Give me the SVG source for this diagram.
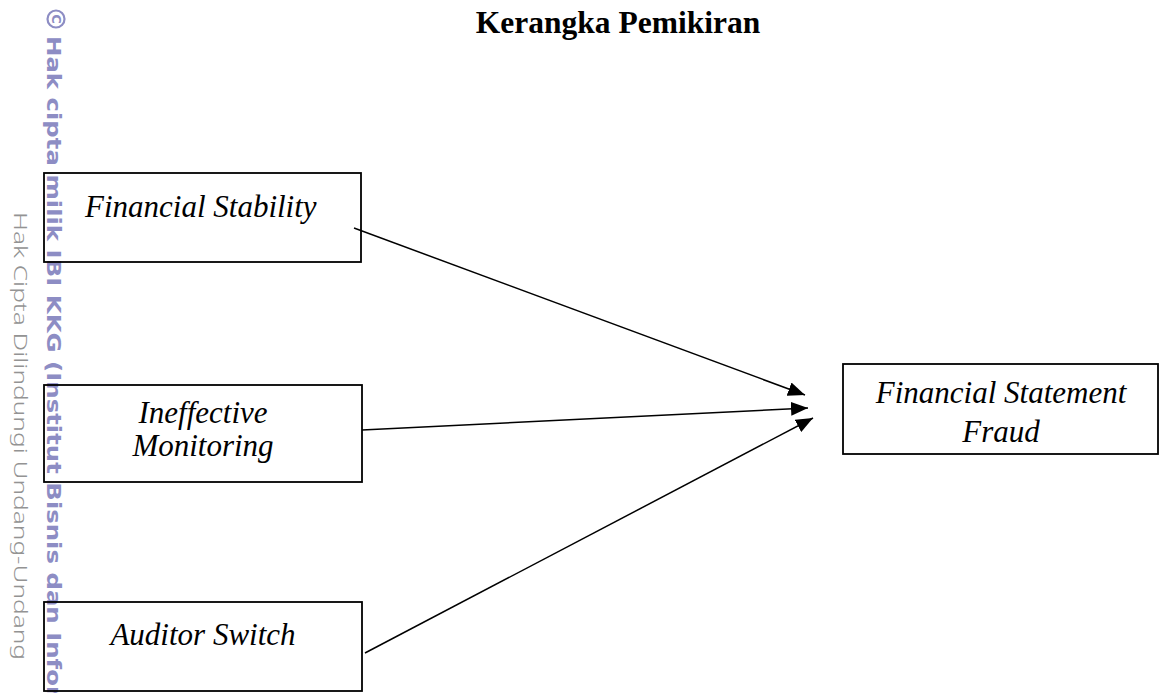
<svg xmlns="http://www.w3.org/2000/svg" width="1160" height="693" viewBox="0 0 1160 693">
<style>
.box{fill:none;stroke:#000;stroke-width:1.8}
.lbl{font-family:"Liberation Serif","Times New Roman",serif;font-style:italic;font-size:31px;fill:#000}
.conn{stroke:#000;stroke-width:1.5;fill:none;marker-end:url(#arr)}
.wm1{font-family:"DejaVu Sans",sans-serif;font-weight:bold;font-size:19.5px;fill:#8d8dc4}
.wm2{font-family:"Noto Sans","DejaVu Sans",sans-serif;font-weight:300;font-size:18px;fill:#939393}
</style>
<defs>
<marker id="arr" markerUnits="userSpaceOnUse" markerWidth="18" markerHeight="14" refX="17" refY="7" orient="auto">
<path d="M0,0 L17,7 L0,14 z" fill="#000"/>
</marker>
</defs>
<rect width="1160" height="693" fill="#fff"/>
<g id="watermark">
<text class="wm2" transform="translate(14,212) rotate(90)" textLength="448" lengthAdjust="spacingAndGlyphs">Hak Cipta Dilindungi Undang-Undang</text>
<circle cx="56" cy="19" r="8.5" fill="none" stroke="#8d8dc4" stroke-width="2.2"/>
<text transform="translate(51.5,19) rotate(90)" text-anchor="middle" style="font-family:'DejaVu Sans',sans-serif;font-weight:bold;font-size:13px;fill:#8d8dc4">C</text>
<text class="wm1" transform="translate(47,36) rotate(90)" textLength="662" lengthAdjust="spacingAndGlyphs">Hak cipta milik IBI KKG (Institut Bisnis dan Infor</text>
</g>
<text x="618" y="33" text-anchor="middle" style="font-family:'Liberation Serif','Times New Roman',serif;font-weight:bold;font-size:31.5px;fill:#000">Kerangka Pemikiran</text>
<g id="node-financial-stability">
<rect class="box" x="44" y="173" width="317" height="89"/>
<text class="lbl" x="85" y="217">Financial Stability</text>
</g>
<g id="node-ineffective-monitoring">
<rect class="box" x="44" y="385" width="318" height="97"/>
<text class="lbl" x="203" y="423" text-anchor="middle">Ineffective</text>
<text class="lbl" x="203" y="456" text-anchor="middle">Monitoring</text>
</g>
<g id="node-auditor-switch">
<rect class="box" x="44" y="602" width="318" height="89"/>
<text class="lbl" x="203" y="645" text-anchor="middle">Auditor Switch</text>
</g>
<g id="node-fsf">
<rect class="box" x="843" y="364" width="315" height="90"/>
<text class="lbl" x="1001" y="403" text-anchor="middle">Financial Statement</text>
<text class="lbl" x="1001" y="442" text-anchor="middle">Fraud</text>
</g>
<g id="connectors">
<line class="conn" x1="354" y1="228" x2="805" y2="395"/>
<line class="conn" x1="362" y1="430" x2="808" y2="408"/>
<line class="conn" x1="365" y1="653" x2="813" y2="418"/>
</g>
</svg>
